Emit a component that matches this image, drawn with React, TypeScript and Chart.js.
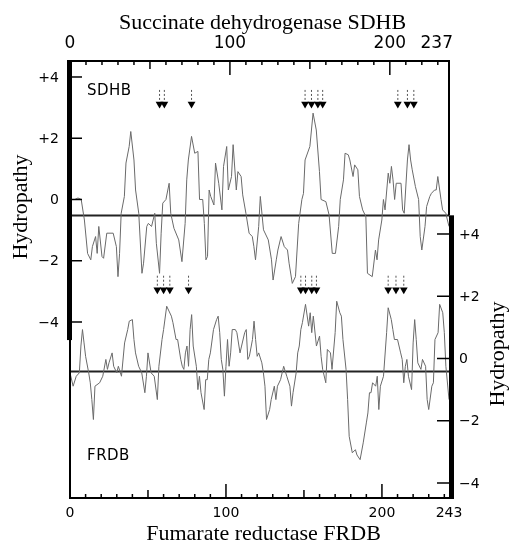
import React, { useEffect, useRef } from "react";
import { Chart, registerables } from "chart.js";

Chart.register(...registerables);

// ---- Data ----
const SDHB_LENGTH = 237;
const FRDB_LENGTH = 243;

const SDHB_RES = [3, 5, 7, 9, 11, 13, 14, 16, 17, 18, 20, 21, 23, 27, 29, 30, 31, 32, 34, 35, 37, 38, 40, 41, 43, 45, 46, 48, 49, 51, 53, 54, 56, 57, 58, 60, 62, 63, 65, 68, 70, 72, 73, 74, 76, 78, 80, 81, 83, 84, 85, 86, 87, 88, 90, 91, 93, 95, 96, 98, 99, 101, 102, 104, 105, 107, 108, 110, 112, 114, 115, 116, 118, 119, 121, 124, 126, 127, 129, 130, 132, 134, 136, 137, 139, 141, 143, 145, 146, 147, 150, 152, 154, 156, 157, 160, 162, 164, 166, 168, 169, 171, 172, 174, 175, 177, 178, 180, 181, 183, 185, 186, 189, 191, 192, 193, 195, 196, 197, 199, 200, 201, 202, 203, 204, 207, 208, 209, 211, 212, 213, 214, 216, 218, 219, 220, 222, 223, 225, 226, 228, 229, 230, 232, 233, 235, 236, 237];
const SDHB_HYD = [0.0, 0.05, 0.0, -0.67, -1.76, -1.97, -1.54, -1.21, -1.76, -0.88, -1.86, -1.92, -1.1, -1.1, -1.54, -2.52, -1.76, -0.45, 0.1, 1.19, 1.73, 2.22, 1.29, 0.31, -0.45, -2.41, -2.08, -0.88, -0.78, -0.88, -0.45, -1.43, -2.41, -1.1, -0.12, 0.0, 0.53, -0.45, -0.94, -1.32, -2.03, -0.78, 0.64, 1.29, 2.06, 1.51, 1.57, 0.0, 0.0, -0.78, -1.97, -1.86, 0.31, 0.1, -0.18, 1.19, 0.53, -0.34, 1.08, 1.73, 0.31, 0.75, 1.79, 0.31, 0.91, 0.75, 0.15, -0.45, -1.1, -1.21, -1.54, -1.97, -0.88, 0.1, -0.99, -1.32, -1.97, -2.63, -1.97, -1.65, -1.21, -1.54, -1.65, -2.08, -2.74, -2.52, -0.78, 0.0, 0.2, 1.29, 1.73, 2.82, 2.27, 0.91, 0.0, -0.07, -0.5, -1.76, -1.76, -0.88, 0.0, 0.64, 1.51, 1.46, 1.29, 0.75, 1.13, 0.97, 0.1, -0.34, -0.56, -2.41, -2.52, -1.65, -1.97, -1.32, -0.67, 0.0, -0.34, 0.86, 0.53, 1.08, 0.64, 0.0, 0.53, 0.53, -0.34, -0.45, 1.29, 1.79, 1.29, 0.97, 0.42, 0.0, -1.21, -1.65, -0.88, -0.23, 0.1, 0.2, 0.31, 0.31, 0.75, 0.0, -0.34, -0.45, -0.67, -0.88];

const FRDB_RES = [0, 2, 4, 6, 7, 8, 9, 10, 12, 13, 14, 15, 16, 19, 21, 23, 24, 25, 27, 28, 30, 31, 33, 35, 37, 38, 40, 41, 42, 44, 46, 48, 49, 50, 52, 54, 56, 57, 59, 60, 62, 65, 66, 68, 69, 71, 72, 73, 74, 75, 76, 77, 78, 79, 81, 82, 83, 84, 86, 87, 88, 89, 90, 92, 94, 95, 96, 97, 98, 99, 100, 101, 102, 103, 104, 106, 107, 109, 110, 112, 113, 114, 115, 117, 118, 119, 120, 121, 123, 124, 125, 126, 128, 129, 131, 132, 133, 135, 137, 139, 141, 142, 143, 145, 146, 147, 148, 149, 151, 153, 154, 155, 156, 158, 160, 161, 162, 164, 165, 167, 168, 170, 171, 173, 174, 175, 177, 178, 179, 181, 183, 184, 186, 188, 190, 191, 192, 193, 194, 196, 197, 198, 199, 201, 203, 204, 206, 207, 208, 210, 212, 213, 214, 215, 216, 217, 219, 220, 221, 222, 223, 225, 226, 228, 229, 230, 232, 233, 234, 236, 237, 239, 240, 241, 243];
const FRDB_HYD = [-0.46, -0.89, -0.57, -0.46, 0.4, 0.93, 0.5, 0.07, -0.46, -0.78, -1.32, -1.96, -0.89, -0.78, -0.57, -0.03, -0.35, -0.14, 0.18, -0.25, -0.46, -0.25, -0.57, 0.5, 0.93, 1.2, 1.25, 0.61, 0.18, -0.25, -0.46, -1.1, -0.57, 0.18, -0.46, -0.57, -1.32, -0.25, 0.61, 0.93, 1.68, 1.36, 1.15, 0.61, 0.61, -0.03, -0.25, -0.35, 0.18, 0.4, -0.25, 0.93, 1.41, 0.4, -0.25, -1.0, -0.57, -1.1, -1.64, -0.68, -0.68, -0.03, 0.18, 0.93, 1.25, 1.36, 0.83, -0.03, -0.35, -1.21, -0.25, 0.61, -0.25, 0.18, 0.93, 0.93, 0.83, 0.18, 0.4, 0.83, 0.93, -0.03, 0.07, 0.61, 1.2, 0.61, 0.07, 0.18, -0.14, -0.46, -0.89, -1.96, -1.64, -1.32, -0.89, -1.32, -0.89, -0.68, -0.25, -0.57, -0.89, -1.53, -1.1, -0.46, 0.18, 0.4, 0.93, 1.15, 1.74, 1.04, 1.47, 0.83, 1.36, 0.4, 0.72, 0.07, -0.35, -0.78, 0.29, 0.18, -0.35, 0.83, 1.84, 1.47, 1.36, 0.61, -0.35, -1.32, -2.5, -3.03, -2.93, -3.1, -3.25, -2.71, -2.07, -1.75, -1.1, -1.1, -0.78, -0.89, -0.57, -1.64, -0.89, -0.57, 0.83, 1.63, 1.25, 0.93, 0.61, 0.61, 0.18, -0.03, -0.78, -0.25, -0.03, -0.57, -1.0, 0.5, 1.25, 0.61, -0.14, -0.35, -0.03, -0.25, -1.32, -1.64, -0.89, -0.78, 0.61, 0.83, 1.74, 1.47, 0.83, -0.25, -1.32];

// Cysteine positions marked with arrows
const SDHB_ARROWS = [56, 59, 76, 147, 151, 155, 158, 205, 211, 215];
const FRDB_ARROWS = [56, 60, 64, 76, 148, 151, 155, 158, 204, 209, 214];
const SDHB_ARROW_LEVEL = 3.12;
const FRDB_ARROW_LEVEL = 2.21;

// Mean hydropathy reference lines
const SDHB_MEAN = -0.52;
const FRDB_MEAN = -0.42;

// Axis ticks
const Y_TICKS = [4, 2, 0, -2, -4];
const Y_TICK_LABELS = ["+4", "+2", "0", "\u22122", "\u22124"];
const TOP_LABELS = [0, 100, 200, 237];
const BOTTOM_LABELS = [0, 100, 200, 243];
const MINOR_STEP = 10;

// Scale windows and extents of the thick axis bars
const LEFT_MIN = -9.747;
const LEFT_MAX = 4.522;
const RIGHT_MIN = -4.482;
const RIGHT_MAX = 9.558;
const LEFT_BAR_MIN = -4.59;
const RIGHT_BAR_MAX = 4.6;

const TITLE_TOP = "Succinate dehydrogenase SDHB";
const TITLE_BOTTOM = "Fumarate reductase FRDB";
const Y_TITLE = "Hydropathy";

const toPts = (xs: number[], ys: number[]) => xs.map((x, i) => ({ x, y: ys[i] }));

const SERIF = "'Liberation Serif', 'Times New Roman', serif";
const SANS = "'DejaVu Sans', sans-serif";

const axesPlugin = {
  id: "hydroAxes",
  afterDatasetsDraw(chart: any) {
    const { ctx, chartArea: a, scales } = chart;
    const xT = scales.xTop;
    const xB = scales.xBot;
    const yL = scales.yL;
    const yR = scales.yR;
    const line = (x1: number, y1: number, x2: number, y2: number) => {
      ctx.beginPath();
      ctx.moveTo(x1, y1);
      ctx.lineTo(x2, y2);
      ctx.stroke();
    };
    ctx.save();
    ctx.strokeStyle = "#000";
    ctx.fillStyle = "#000";

    // arrow stems (dashed)
    [4, 5].forEach((di) => {
      const meta = chart.getDatasetMeta(di);
      ctx.lineWidth = 1;
      ctx.strokeStyle = "#555";
      ctx.setLineDash([2, 2]);
      meta.data.forEach((pt: any) => {
        line(pt.x, pt.y - 4, pt.x, pt.y - 16);
      });
      ctx.setLineDash([]);
      ctx.strokeStyle = "#000";
    });

    const leftBarEnd = yL.getPixelForValue(LEFT_BAR_MIN);
    const rightBarStart = yR.getPixelForValue(RIGHT_BAR_MAX);

    // frame
    ctx.lineWidth = 2;
    line(a.left - 2, a.top, a.right + 1, a.top);
    line(a.right, a.top, a.right, rightBarStart);
    line(a.left, leftBarEnd, a.left, a.bottom);
    line(a.left - 1, a.bottom, a.right + 5, a.bottom);

    // thick bars
    ctx.fillRect(a.left - 3, a.top - 1, 5, leftBarEnd - a.top + 1);
    ctx.fillRect(a.right, rightBarStart, 5, a.bottom - rightBarStart + 1);

    // top ticks (SDHB)
    ctx.lineWidth = 1.5;
    for (let v = MINOR_STEP; v < SDHB_LENGTH; v += MINOR_STEP) {
      const len = v % 100 === 0 ? 14 : v % 50 === 0 ? 8 : 4;
      const px = xT.getPixelForValue(v);
      line(px, a.top, px, a.top + len);
    }
    // bottom ticks (FRDB)
    for (let v = MINOR_STEP; v < FRDB_LENGTH; v += MINOR_STEP) {
      const len = v % 100 === 0 ? 14 : v % 50 === 0 ? 8 : 4;
      const px = xB.getPixelForValue(v);
      line(px, a.bottom, px, a.bottom - len);
    }
    // y ticks
    ctx.lineWidth = 1.5;
    Y_TICKS.forEach((v) => {
      const pl = yL.getPixelForValue(v);
      line(a.left, pl, a.left + 12, pl);
      const pr = yR.getPixelForValue(v);
      line(a.right - 12, pr, a.right, pr);
    });

    // tick labels
    ctx.textBaseline = "alphabetic";
    ctx.font = `17px ${SANS}`;
    TOP_LABELS.forEach((v, i) => {
      const px = xT.getPixelForValue(v);
      if (i === TOP_LABELS.length - 1) {
        ctx.textAlign = "right";
        ctx.fillText(String(v), px + 4, a.top - 13);
      } else {
        ctx.textAlign = "center";
        ctx.fillText(String(v), px, a.top - 13);
      }
    });
    ctx.font = `14px ${SANS}`;
    ctx.textAlign = "center";
    BOTTOM_LABELS.forEach((v) => {
      const px = xB.getPixelForValue(v);
      ctx.fillText(String(v), px, a.bottom + 19);
    });
    ctx.textBaseline = "middle";
    Y_TICKS.forEach((v, i) => {
      ctx.textAlign = "right";
      ctx.fillText(Y_TICK_LABELS[i], a.left - 11, yL.getPixelForValue(v) + 1);
      ctx.textAlign = "left";
      ctx.fillText(Y_TICK_LABELS[i], a.right + 10, yR.getPixelForValue(v) + 1);
    });

    // series labels
    ctx.textBaseline = "alphabetic";
    ctx.textAlign = "left";
    ctx.font = `15px ${SANS}`;
    (ctx as any).letterSpacing = "0.5px";
    ctx.fillText("SDHB", a.left + 17, a.top + 34);
    ctx.fillText("FRDB", a.left + 17, a.bottom - 38);
    (ctx as any).letterSpacing = "0px";

    // titles
    ctx.font = `22px ${SERIF}`;
    ctx.textAlign = "center";
    ctx.fillText(TITLE_TOP, (a.left + a.right) / 2 + 3, 29);
    ctx.fillText(TITLE_BOTTOM, (a.left + a.right) / 2 + 4, 540);

    ctx.save();
    ctx.translate(27, 207);
    ctx.rotate(-Math.PI / 2);
    ctx.fillText(Y_TITLE, 0, 0);
    ctx.restore();
    ctx.save();
    ctx.translate(504, 354);
    ctx.rotate(-Math.PI / 2);
    ctx.fillText(Y_TITLE, 0, 0);
    ctx.restore();

    ctx.restore();
  },
};

export default function App() {
  const canvasRef = useRef<HTMLCanvasElement | null>(null);

  useEffect(() => {
    if (!canvasRef.current) return;
    const traceColor = "#6a6a6a";
    const chart = new Chart(canvasRef.current, {
      type: "line",
      data: {
        datasets: [
          {
            label: "SDHB",
            data: toPts(SDHB_RES, SDHB_HYD),
            xAxisID: "xTop",
            yAxisID: "yL",
            borderColor: traceColor,
            borderWidth: 1,
            pointRadius: 0,
            tension: 0,
          },
          {
            label: "FRDB",
            data: toPts(FRDB_RES, FRDB_HYD),
            xAxisID: "xBot",
            yAxisID: "yR",
            borderColor: traceColor,
            borderWidth: 1,
            pointRadius: 0,
            tension: 0,
          },
          {
            label: "SDHB mean",
            data: [
              { x: 0, y: SDHB_MEAN },
              { x: SDHB_LENGTH, y: SDHB_MEAN },
            ],
            xAxisID: "xTop",
            yAxisID: "yL",
            borderColor: "#222",
            borderWidth: 2,
            pointRadius: 0,
          },
          {
            label: "FRDB mean",
            data: [
              { x: 0, y: FRDB_MEAN },
              { x: FRDB_LENGTH, y: FRDB_MEAN },
            ],
            xAxisID: "xBot",
            yAxisID: "yR",
            borderColor: "#222",
            borderWidth: 2,
            pointRadius: 0,
          },
          {
            label: "SDHB Cys",
            data: SDHB_ARROWS.map((x) => ({ x, y: SDHB_ARROW_LEVEL })),
            xAxisID: "xTop",
            yAxisID: "yL",
            showLine: false,
            pointStyle: "triangle",
            rotation: 180,
            pointRadius: 4.5,
            pointBackgroundColor: "#000",
            pointBorderColor: "#000",
            pointBorderWidth: 0,
          },
          {
            label: "FRDB Cys",
            data: FRDB_ARROWS.map((x) => ({ x, y: FRDB_ARROW_LEVEL })),
            xAxisID: "xBot",
            yAxisID: "yR",
            showLine: false,
            pointStyle: "triangle",
            rotation: 180,
            pointRadius: 4.5,
            pointBackgroundColor: "#000",
            pointBorderColor: "#000",
            pointBorderWidth: 0,
          },
        ],
      },
      options: {
        responsive: false,
        animation: false,
        devicePixelRatio: 1,
        events: [],
        layout: { padding: { left: 70, right: 60, top: 61, bottom: 45 } },
        plugins: { legend: { display: false }, tooltip: { enabled: false } },
        scales: {
          xTop: { type: "linear", position: "top", min: 0, max: SDHB_LENGTH, display: false },
          xBot: { type: "linear", position: "bottom", min: 0, max: FRDB_LENGTH, display: false },
          yL: { type: "linear", position: "left", min: LEFT_MIN, max: LEFT_MAX, display: false },
          yR: { type: "linear", position: "right", min: RIGHT_MIN, max: RIGHT_MAX, display: false },
        },
      },
      plugins: [axesPlugin],
    });
    return () => chart.destroy();
  }, []);

  return (
    <div style={{ position: "absolute", left: 0, top: 0, width: 509, height: 543, background: "#fff" }}>
      <canvas ref={canvasRef} width={509} height={543} />
    </div>
  );
}
